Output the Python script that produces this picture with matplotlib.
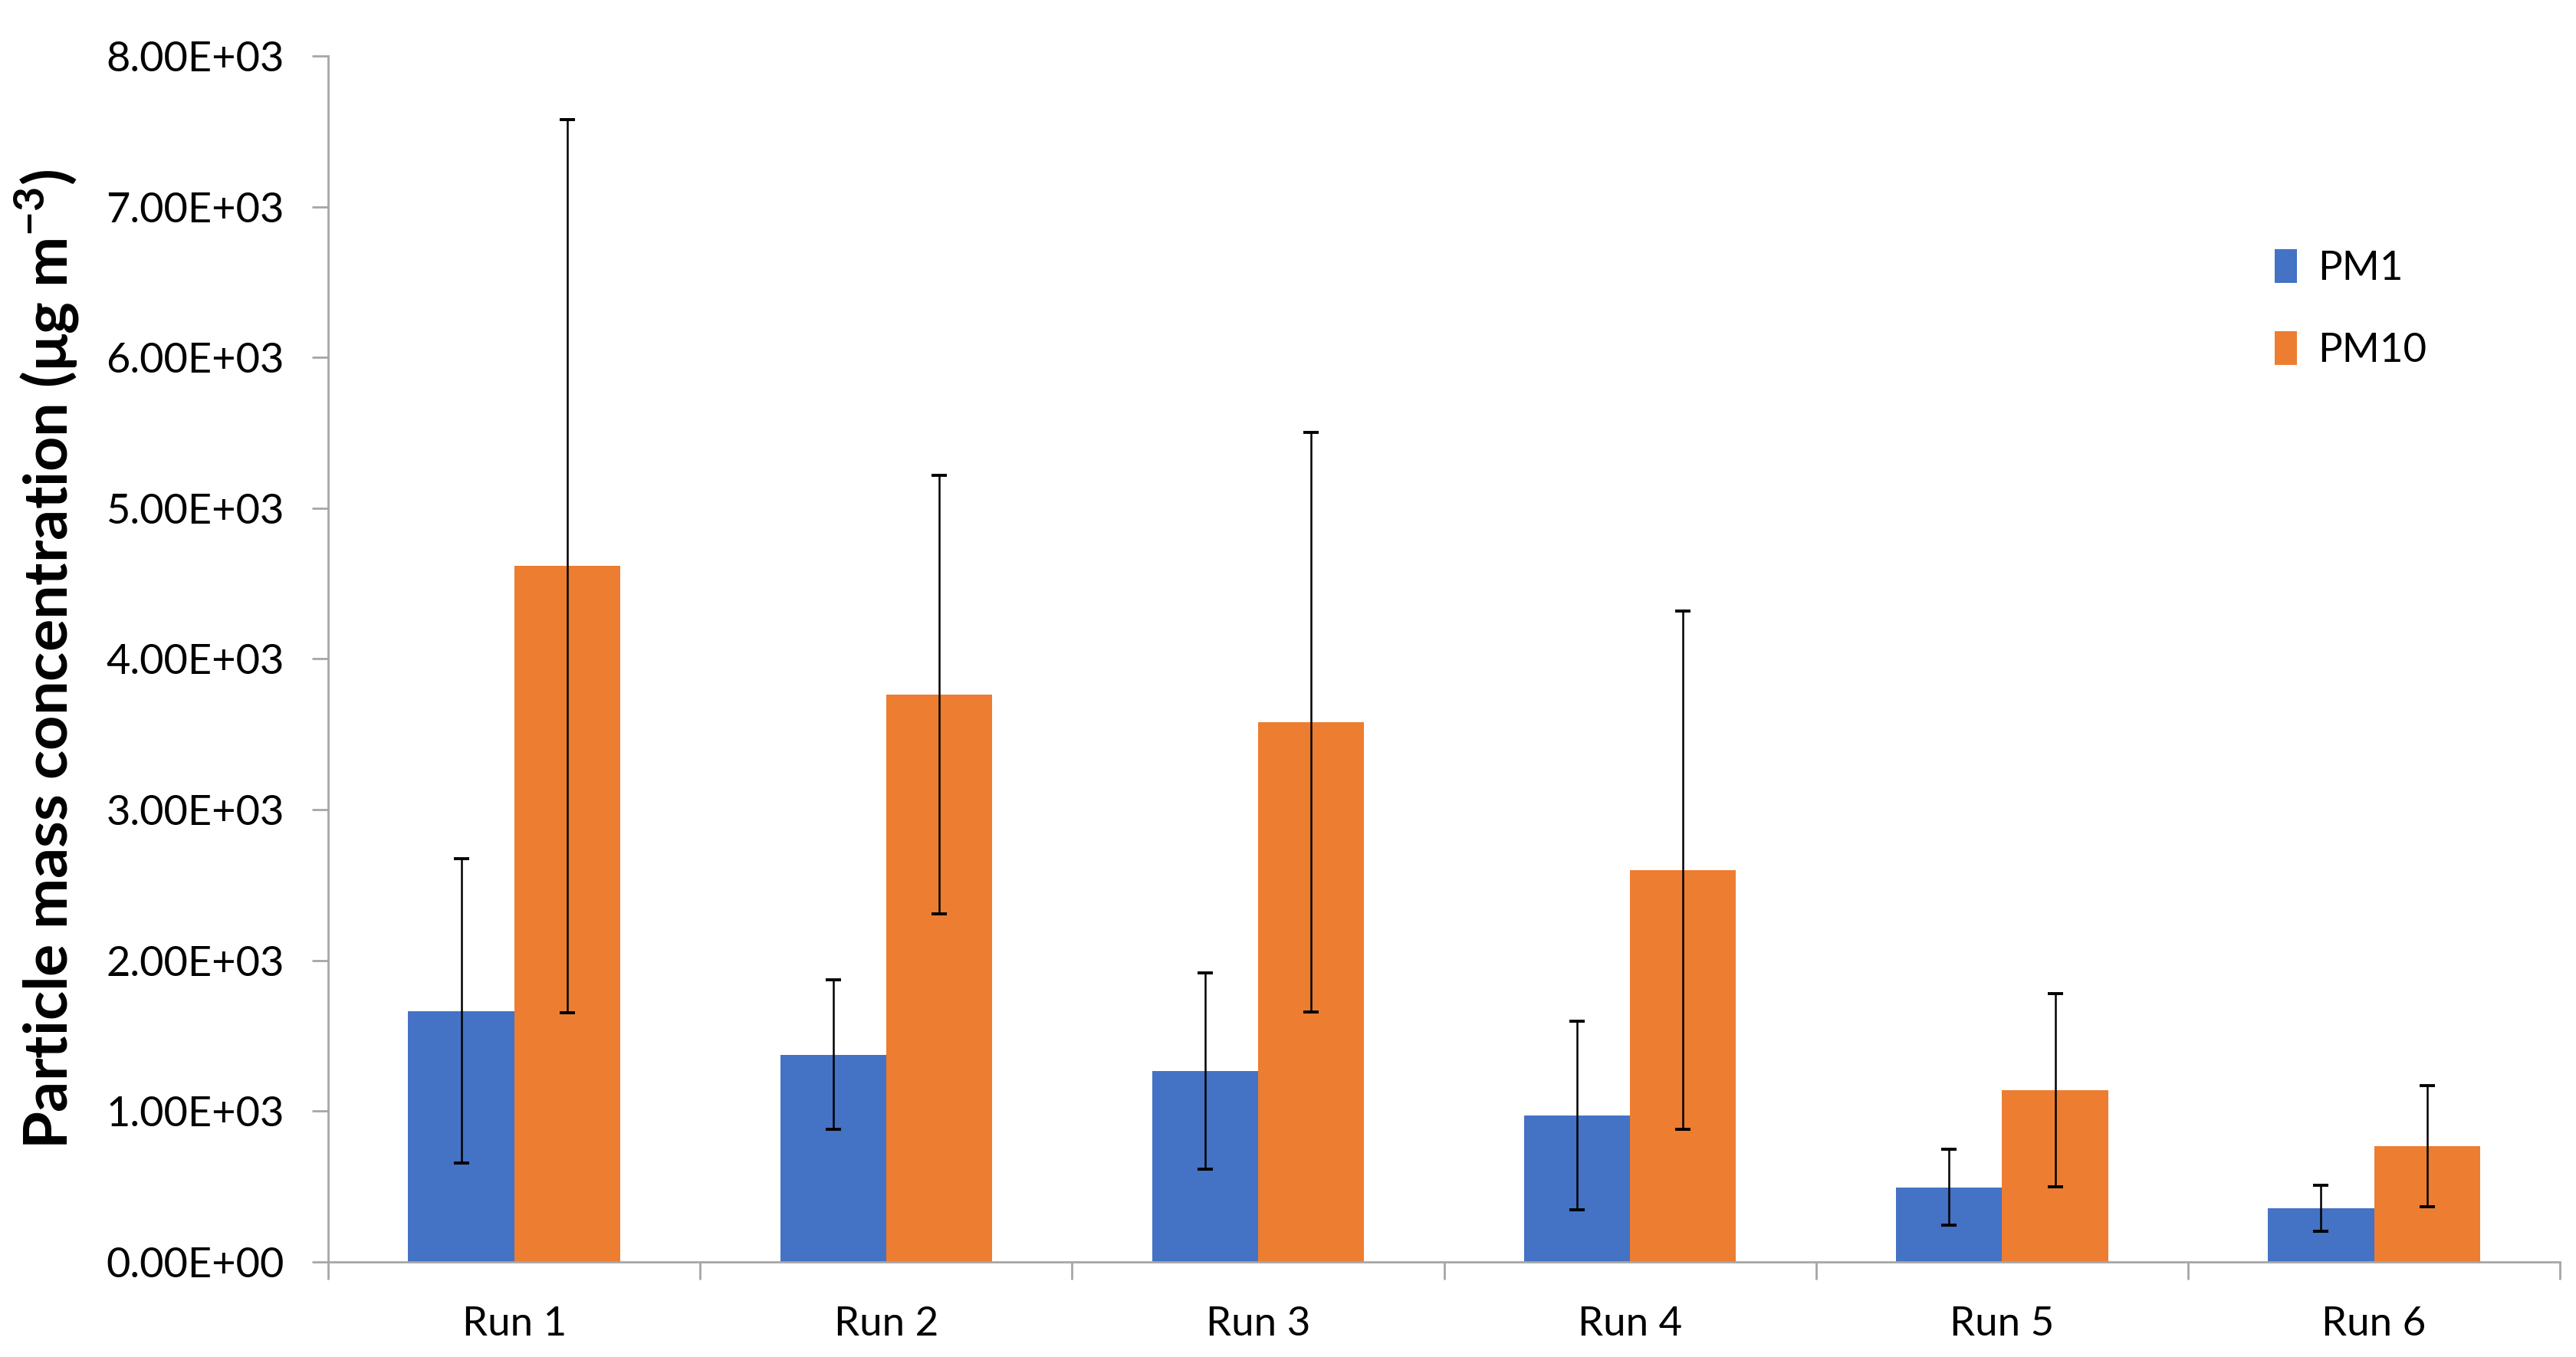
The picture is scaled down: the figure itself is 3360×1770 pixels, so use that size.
import numpy as np
import matplotlib
matplotlib.use("Agg")
import matplotlib.pyplot as plt
from matplotlib.ticker import FuncFormatter, FixedLocator

plt.rcParams['font.family'] = ['Lato', 'DejaVu Sans']
plt.rcParams['mathtext.fontset'] = 'custom'
plt.rcParams['mathtext.bf'] = 'Lato:bold'
plt.rcParams['mathtext.rm'] = 'Lato'

# Data (ug m-3)
runs = ['Run 1', 'Run 2', 'Run 3', 'Run 4', 'Run 5', 'Run 6']
pm1 = [1665, 1375, 1265, 970, 495, 355]
pm1_err = [1010, 495, 650, 625, 253, 154]
pm10 = [4615, 3765, 3580, 2600, 1138, 768]
pm10_err = [2960, 1455, 1920, 1720, 642, 400]
yticks = [0, 1000, 2000, 3000, 4000, 5000, 6000, 7000, 8000]

blue = '#4472C4'
orange = '#ED7D31'
grey = '#A6A6A6'

fig = plt.figure(figsize=(16.8, 8.85), dpi=200)
ax = fig.add_axes([0.1274, 0.0701, 0.8664, 0.8887])

x = np.arange(len(runs))
w = 0.285
err_kw = dict(ecolor='black', elinewidth=0.9, capsize=3.6, capthick=1.4)
ax.bar(x - w / 2, pm1, w, color=blue, label='PM1', yerr=pm1_err, error_kw=err_kw)
ax.bar(x + w / 2, pm10, w, color=orange, label='PM10', yerr=pm10_err, error_kw=err_kw)

ax.set_xlim(-0.5, len(runs) - 0.5)
ax.set_ylim(0, 8000)
ax.set_yticks(yticks)
ax.yaxis.set_major_formatter(FuncFormatter(lambda v, p: '{:.2E}'.format(v)))

ax.set_xticks(x)
ax.set_xticklabels(runs)
ax.xaxis.set_minor_locator(FixedLocator(np.arange(-0.5, len(runs), 1.0)))
ax.tick_params(axis='x', which='major', length=0, pad=21, labelsize=19)
ax.tick_params(axis='x', which='minor', length=8.3, width=1.0, color=grey, direction='out')
ax.tick_params(axis='y', length=7.6, width=1.0, color=grey, pad=13, labelsize=19.5)

for s in ['top', 'right']:
    ax.spines[s].set_visible(False)
for s in ['left', 'bottom']:
    ax.spines[s].set_color(grey)
    ax.spines[s].set_linewidth(1.0)

ax.set_ylabel(r'Particle mass concentration (μg m$^{\mathbf{-3}}$)',
              fontsize=28.5, fontweight='bold')
ax.yaxis.set_label_coords(-0.1105, 0.5)

ax.legend(loc='upper left', bbox_to_anchor=(0.856, 0.87), frameon=False,
          fontsize=19, handlelength=0.55, handleheight=0.9, handletextpad=0.5,
          labelspacing=1.1)

fig.savefig('out.png', dpi=200)
